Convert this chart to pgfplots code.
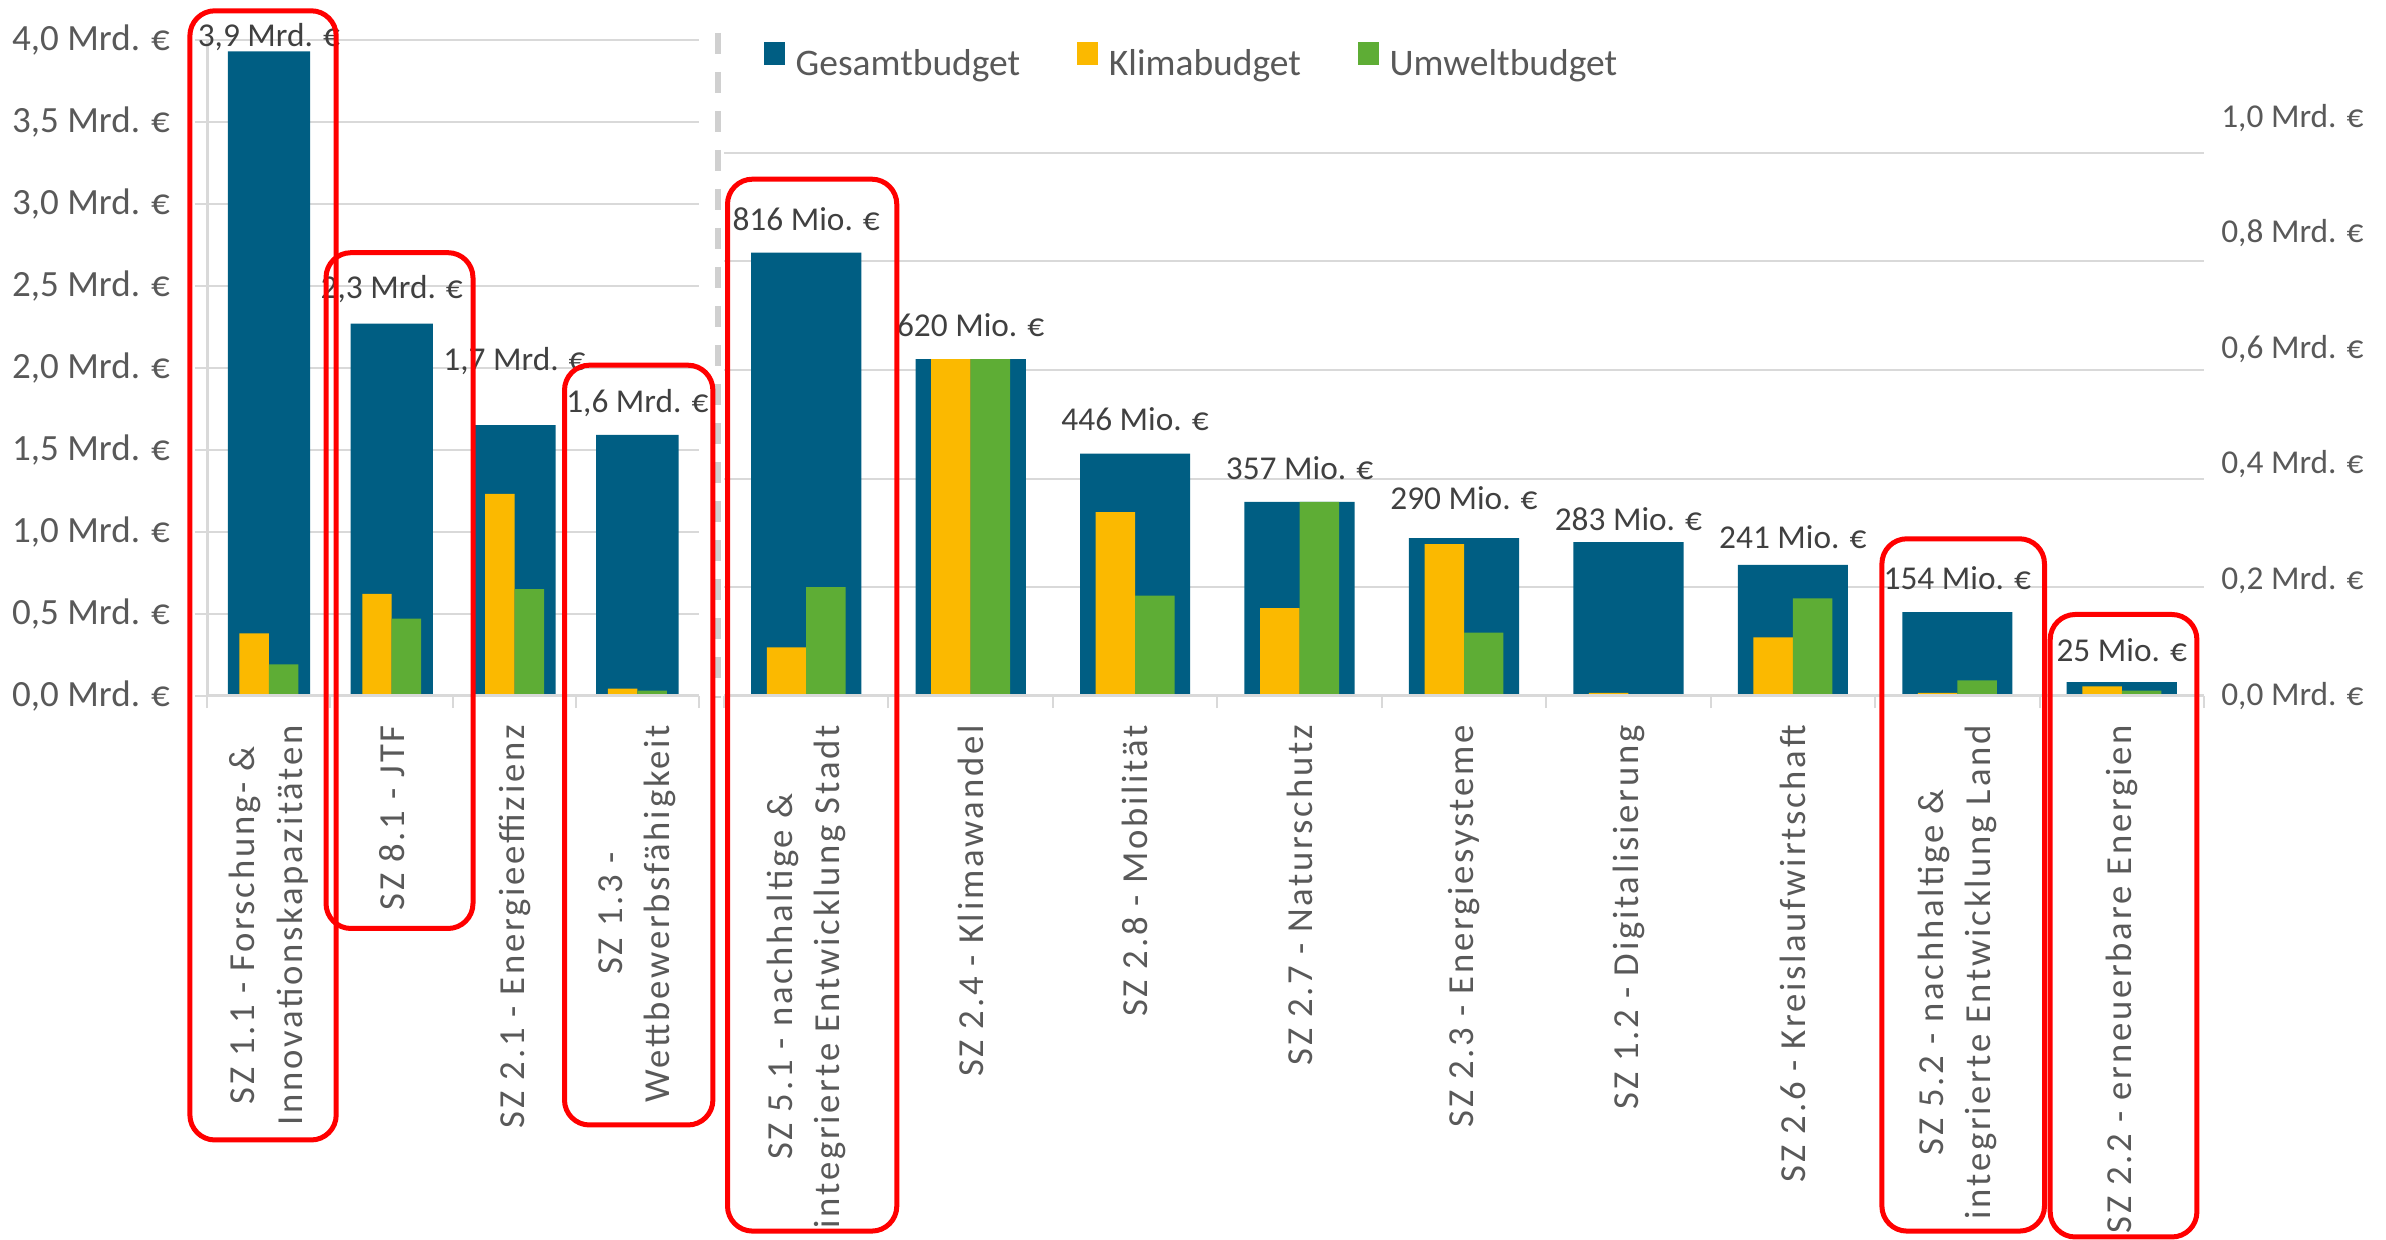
\documentclass[border=0pt]{standalone}
\usepackage{fontspec}
\setmainfont{Carlito}
\newfontfamily\catfont[LetterSpace=7.5]{Carlito}
\usepackage{pgfplots}
\pgfplotsset{compat=1.18}
\definecolor{gesamt}{HTML}{005E83}
\definecolor{klima}{HTML}{FBB900}
\definecolor{umwelt}{HTML}{5EAD35}
\definecolor{gridgray}{HTML}{D9D9D9}
\definecolor{txtgray}{HTML}{595959}
\definecolor{lblgray}{HTML}{404040}
\definecolor{dashgray}{HTML}{D0D0D0}

\pgfplotsset{
  budgetaxis/.style={
    scale only axis, anchor=south west, clip=false,
    axis line style={draw=none},
    ymin=0,
    ymajorgrids, grid style={draw=gridgray, line width=0.6pt},
    tick align=outside,
    xtick pos=left, ytick pos=left,
    major tick length=3.75pt,
    tick style={draw=gridgray, line width=0.6pt},
    xticklabels={},
    xticklabel style={rotate=90, anchor=east, align=center, inner sep=0pt,
      font=\catfont\fontsize{11}{14.25}\selectfont, text=txtgray},
    extra x tick style={major tick length=0pt, grid=none},
    xticklabel shift=8.7pt,
  },
}
\tikzset{dl/.style={font=\fontsize{10}{12}\selectfont, text=lblgray, inner sep=0pt}}

\begin{document}
\begin{tikzpicture}
\path[use as bounding box] (0,0) rectangle (715.8pt,372pt);

% ---------------- left panel (Mrd. EUR) ----------------
\begin{axis}[budgetaxis,
  at={(62.25pt,163.32pt)}, width=147.39pt, height=196.68pt,
  xmin=-0.5, xmax=3.5, ymax=4,
  xtick={-0.5,0.5,1.5,2.5,3.5},
  extra x ticks={0,1,2,3},
  extra x tick labels={{SZ 1.1 - Forschung- \&\\Innovationskapazitäten},{SZ 8.1 - JTF},{SZ 2.1 - Energieeffizienz},{SZ 1.3 -\\Wettbewerbsfähigkeit}},
  ytick={0,0.5,1,1.5,2,2.5,3,3.5,4},
  yticklabels={{0,0 Mrd. €},{0,5 Mrd. €},{1,0 Mrd. €},{1,5 Mrd. €},{2,0 Mrd. €},{2,5 Mrd. €},{3,0 Mrd. €},{3,5 Mrd. €},{4,0 Mrd. €}},
  yticklabel style={anchor=east, inner sep=0pt, font=\fontsize{11.1}{13}\selectfont, text=txtgray},
  yticklabel shift=7.3pt,
]
\draw[gridgray, line width=0.7pt] (axis cs:-0.5,0) -- (axis cs:-0.5,4);
\addplot[ybar, bar width=0.67, bar shift=0, fill=gesamt, draw=none]
  coordinates {(0,3.93) (1,2.27) (2,1.65) (3,1.59)};
\addplot[ybar, bar width=0.24, bar shift=-0.12, fill=klima, draw=none]
  coordinates {(0,0.38) (1,0.62) (2,1.23) (3,0.042)};
\addplot[ybar, bar width=0.24, bar shift=0.12, fill=umwelt, draw=none]
  coordinates {(0,0.19) (1,0.47) (2,0.65) (3,0.031)};
\draw[gridgray, line width=0.9pt] (axis cs:-0.5,0) -- (axis cs:3.5,0);
\node[dl] at (axis cs:0,4.02) {3,9 Mrd. €};
\node[dl] at (axis cs:1,2.48) {2,3 Mrd. €};
\node[dl] at (axis cs:2,2.044) {1,7 Mrd. €};
\node[dl] at (axis cs:3,1.785) {1,6 Mrd. €};
\end{axis}

% ---------------- right panel (Mio. EUR, plotted in Mrd.) ----------------
\begin{axis}[budgetaxis,
  at={(217.2pt,163.32pt)}, width=444pt, height=162.81pt,
  xmin=-0.5, xmax=8.5, ymax=1,
  xtick={-0.5,0.5,1.5,2.5,3.5,4.5,5.5,6.5,7.5,8.5},
  extra x ticks={0,1,2,3,4,5,6,7,8},
  extra x tick labels={{SZ 5.1 - nachhaltige \&\\integrierte Entwicklung Stadt},{SZ 2.4 - Klimawandel},{SZ 2.8 - Mobilität},{SZ 2.7 - Naturschutz},{SZ 2.3 - Energiesysteme},{SZ 1.2 - Digitalisierung},{SZ 2.6 - Kreislaufwirtschaft},{SZ 5.2 - nachhaltige \&\\integrierte Entwicklung Land},{SZ 2.2 - erneuerbare Energien}},
  ytick={0,0.2,0.4,0.6,0.8,1},
  yticklabels={},
  ytick style={draw=none},
  legend style={at={(0.02635,1.1693)}, anchor=west, draw=none, fill=none,
    legend columns=3, font=\fontsize{11.25}{13}\selectfont, text=txtgray,
    inner sep=0pt, nodes={inner sep=0pt},
    /tikz/every odd column/.append style={column sep=3.3pt},
    /tikz/every even column/.append style={column sep=17pt}},
  legend cell align=left,
]
\addplot[ybar, bar width=0.67, bar shift=0, fill=gesamt, draw=none,
  legend image code/.code={\fill[gesamt] (0pt,0pt) rectangle (6.3pt,7pt);}]
  coordinates {(0,0.816) (1,0.620) (2,0.446) (3,0.357) (4,0.290) (5,0.283) (6,0.241) (7,0.154) (8,0.025)};
\addlegendentry{Gesamtbudget}
\addplot[ybar, bar width=0.24, bar shift=-0.12, fill=klima, draw=none,
  legend image code/.code={\fill[klima] (0pt,0pt) rectangle (6.3pt,7pt);}]
  coordinates {(0,0.089) (1,0.620) (2,0.338) (3,0.161) (4,0.279) (5,0.005) (6,0.1075) (7,0.005) (8,0.017)};
\addlegendentry{Klimabudget}
\addplot[ybar, bar width=0.24, bar shift=0.12, fill=umwelt, draw=none,
  legend image code/.code={\fill[umwelt] (0pt,0pt) rectangle (6.3pt,7pt);}]
  coordinates {(0,0.200) (1,0.620) (2,0.184) (3,0.357) (4,0.116) (5,0.0) (6,0.179) (7,0.028) (8,0.009)};
\addlegendentry{Umweltbudget}
\draw[gridgray, line width=0.9pt] (axis cs:-0.5,0) -- (axis cs:8.5,0);
\node[dl] at (axis cs:0,0.878) {816 Mio. €};
\node[dl] at (axis cs:1,0.683) {620 Mio. €};
\node[dl] at (axis cs:2,0.5086) {446 Mio. €};
\node[dl] at (axis cs:3,0.4188) {357 Mio. €};
\node[dl] at (axis cs:4,0.363) {290 Mio. €};
\node[dl] at (axis cs:5,0.3245) {283 Mio. €};
\node[dl] at (axis cs:6,0.2919) {241 Mio. €};
\node[dl] at (axis cs:7,0.2158) {154 Mio. €};
\node[dl] at (axis cs:8,0.0846) {25 Mio. €};
\end{axis}

% ---------------- right value labels (secondary scale) ----------------
\begin{axis}[scale only axis, anchor=south west,
  at={(217.2pt,163.32pt)}, width=444pt, height=173.28pt,
  xmin=0, xmax=1, ymin=0, ymax=1,
  hide x axis, axis line style={draw=none},
  ytick={0,0.2,0.4,0.6,0.8,1},
  yticklabels={{0,0 Mrd. €},{0,2 Mrd. €},{0,4 Mrd. €},{0,6 Mrd. €},{0,8 Mrd. €},{1,0 Mrd. €}},
  yticklabel pos=right, ytick style={draw=none},
  yticklabel style={anchor=west, inner sep=0pt, font=\fontsize{10}{12}\selectfont, text=txtgray},
  yticklabel shift=5pt,
]
\end{axis}

% separator and highlight frames
\draw[dashgray, line width=1.8pt, dash pattern=on 6.3pt off 5.4pt] (215.4pt,362.1pt) -- (215.4pt,162.6pt);
\begin{scope}[red, line width=1.5pt, rounded corners=7.5pt]
\draw (56.97pt,30pt) rectangle (100.86pt,368.76pt);
\draw (97.8pt,93.45pt) rectangle (141.9pt,296.19pt);
\draw (169.35pt,34.5pt) rectangle (213.87pt,262.44pt);
\draw (218.25pt,2.67pt) rectangle (269.04pt,318.24pt);
\draw (564.57pt,2.67pt) rectangle (613.35pt,210.36pt);
\draw (615.06pt,0.9pt) rectangle (659.07pt,187.65pt);
\end{scope}
\end{tikzpicture}
\end{document}
